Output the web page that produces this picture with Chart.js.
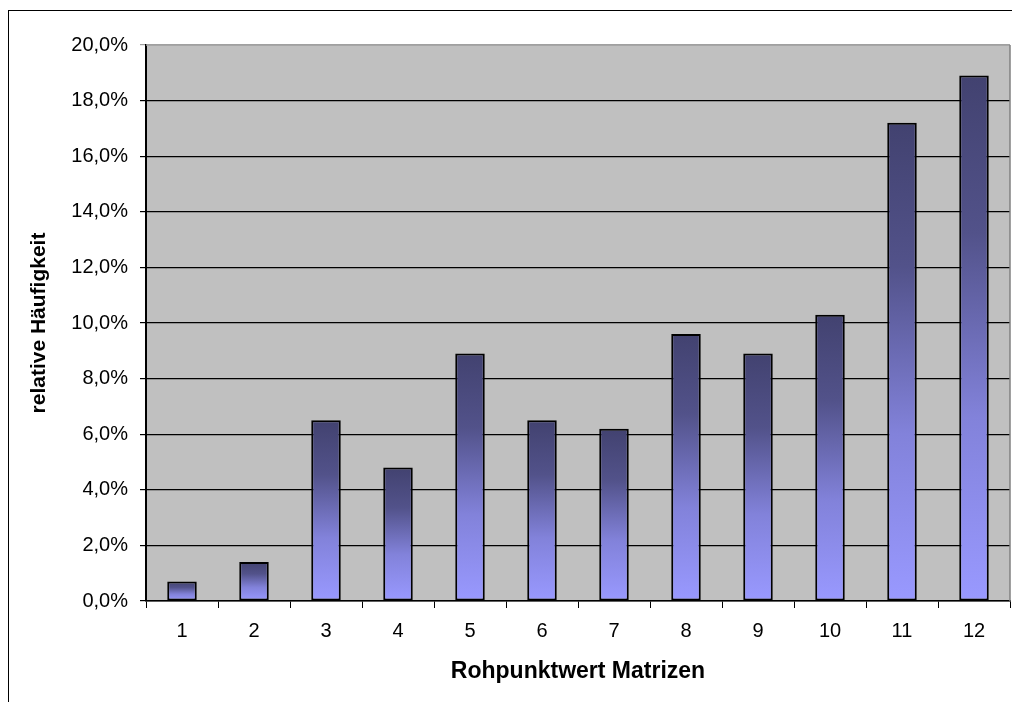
<!DOCTYPE html>
<html lang="de">
<head>
    <meta charset="UTF-8">
    <title>Rohpunktwert Matrizen</title>
    <script src="https://cdn.jsdelivr.net/npm/chart.js"></script>
    <style>
        html, body { margin: 0; padding: 0; background: #fff; }
        #rahmen {
            position: absolute; left: 8px; top: 10px; width: 1100px; height: 800px;
            border-left: 1px solid #000; border-top: 1px solid #000;
        }
        #grafico { position: absolute; left: 0; top: 0; }
    </style>
</head>
<body>
<div id="rahmen"></div>
<canvas id="grafico" width="1012" height="702"></canvas>

<script>
    // Daten
    const kategorien = ['1', '2', '3', '4', '5', '6', '7', '8', '9', '10', '11', '12'];
    const haeufigkeit = [0.7, 1.4, 6.5, 4.8, 8.9, 6.5, 6.2, 9.6, 8.9, 10.3, 17.2, 18.9];

    const schrift = 'Arial, "Liberation Sans"';

    // Hintergrund und Rahmen der Zeichenfläche
    const flaeche = {
        id: 'flaeche',
        beforeDraw(chart) {
            const { ctx, chartArea: a } = chart;
            ctx.save();
            ctx.fillStyle = '#c0c0c0';
            ctx.fillRect(a.left, a.top, a.right - a.left, a.bottom - a.top);
            ctx.restore();
        },
        afterDatasetsDraw(chart) {
            const { ctx, chartArea: a } = chart;
            ctx.save();
            ctx.lineWidth = 1.5;
            ctx.strokeStyle = '#a0a0a0';
            ctx.beginPath();
            ctx.moveTo(a.left, a.top);
            ctx.lineTo(a.right, a.top);
            ctx.stroke();
            ctx.strokeStyle = '#808080';
            ctx.beginPath();
            ctx.moveTo(a.right, a.top);
            ctx.lineTo(a.right, a.bottom);
            ctx.stroke();
            ctx.restore();
        }
    };

    function verlauf(ctx) {
        const chart = ctx.chart;
        const y = chart.scales.y;
        if (!chart.chartArea || !y || ctx.type !== 'data') return '#7070c0';
        const oben = y.getPixelForValue(ctx.raw);
        const unten = y.getPixelForValue(0);
        const g = chart.ctx.createLinearGradient(0, oben, 0, unten);
        g.addColorStop(0, '#424270');
        g.addColorStop(0.3, '#52528a');
        g.addColorStop(0.65, '#8282da');
        g.addColorStop(1, '#9999ff');
        return g;
    }

    new Chart(document.getElementById('grafico'), {
        type: 'bar',
        data: {
            labels: kategorien,
            datasets: [{
                data: haeufigkeit,
                backgroundColor: verlauf,
                borderColor: '#000',
                borderWidth: 2,
                borderSkipped: false,
                barPercentage: 0.41,
                categoryPercentage: 1
            }]
        },
        options: {
            responsive: false,
            animation: false,
            devicePixelRatio: 1,
            layout: { padding: { top: 45, right: 2, left: 0, bottom: 0 } },
            plugins: { legend: { display: false }, tooltip: { enabled: false } },
            scales: {
                x: {
                    afterFit(s) { s.height = 101; },
                    grid: { offset: true, drawOnChartArea: false, color: '#000', tickLength: 7 },
                    border: { color: '#000', width: 1.5 },
                    ticks: { color: '#000', padding: 11, font: { family: schrift, size: 20 } },
                    title: {
                        display: true,
                        text: 'Rohpunktwert Matrizen',
                        color: '#000',
                        padding: { top: 0, bottom: 17 },
                        font: { family: schrift, size: 23, weight: 'bold' }
                    }
                },
                y: {
                    min: 0,
                    max: 20,
                    afterFit(s) { s.width = 146; },
                    grid: {
                        color: c => (c.tick && c.tick.value === 20 ? '#a0a0a0' : '#000'),
                        lineWidth: 1.2,
                        tickLength: 6
                    },
                    border: { color: '#000', width: 2 },
                    ticks: {
                        stepSize: 2,
                        color: '#000',
                        padding: 12,
                        font: { family: schrift, size: 20 },
                        callback: v => v.toFixed(1).replace('.', ',') + '%'
                    },
                    title: {
                        display: true,
                        text: 'relative Häufigkeit',
                        color: '#000',
                        padding: { top: 27, bottom: 0 },
                        font: { family: schrift, size: 21, weight: 'bold' }
                    }
                }
            }
        },
        plugins: [flaeche]
    });
</script>
</body>
</html>
